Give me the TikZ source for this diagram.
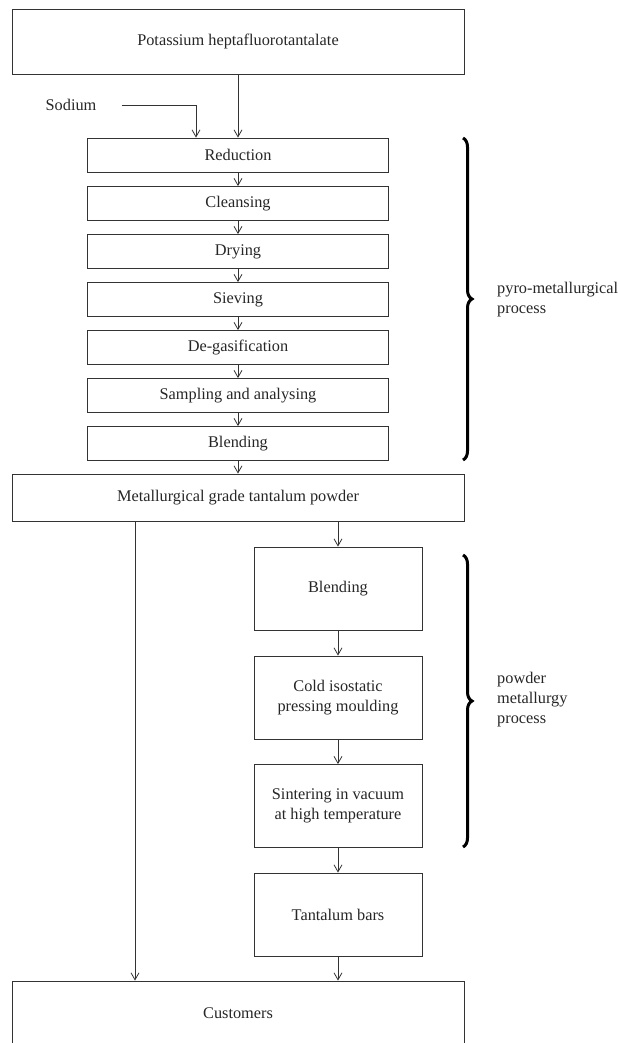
\documentclass[tikz,border=0pt]{standalone}
\usepackage{fontspec}
\setmainfont{Liberation Serif}
\usepackage{tikz}
\usetikzlibrary{arrows.meta, positioning, decorations.pathreplacing}

\begin{document}
\begin{tikzpicture}
  [
    x=1pt, y=-1pt,
    every node/.style={font=\fontsize{16.3}{20}\selectfont, text=black!85},
    Wide/.style={rectangle, draw=black!80, line width=0.8pt, minimum width=452pt, inner sep=0pt},
    Step/.style={rectangle, draw=black!80, line width=0.8pt, minimum width=301pt, minimum height=34pt, inner sep=0pt},
    Tall/.style={rectangle, draw=black!80, line width=0.8pt, minimum width=168pt, minimum height=83pt, inner sep=0pt, align=center},
    Flow/.style={draw=black!80, line width=0.8pt, -{Straight Barb[length=7pt, width=8pt]}},
    Brace/.style={draw=black, line width=3pt, decorate, decoration={brace, amplitude=9pt}}
  ]
  \useasboundingbox (0,0) rectangle (619,1043);
  % Nodes
  \node[Wide, minimum height=65pt] (k2taf7) at (238, 41.5) {Potassium heptafluorotantalate};
  \node[inner sep=0pt] (sodium) at (71, 105) {Sodium};
  \node[Step] (s1) at (238, 155) {Reduction};
  \node[Step] (s2) at (238, 203.5) {Cleansing};
  \node[Step] (s3) at (238, 251.5) {Drying};
  \node[Step] (s4) at (238, 299.5) {Sieving};
  \node[Step] (s5) at (238, 347.5) {De-gasification};
  \node[Step] (s6) at (238, 395.5) {Sampling and analysing};
  \node[Step] (s7) at (238, 443.5) {Blending};
  \node[Wide, minimum height=47pt] (mgp) at (238, 497.5) {Metallurgical grade tantalum powder};
  \node[Tall] (p1) at (338, 588.5) {Blending};
  \node[Tall] (p2) at (338, 697.5) {Cold isostatic\\pressing moulding};
  \node[Tall] (p3) at (338, 806) {Sintering in vacuum\\at high temperature};
  \node[Tall] (p4) at (338, 914.5) {Tantalum bars};
  \node[Wide, minimum height=64pt] (cust) at (238, 1013) {Customers};
  \node[anchor=west, align=left, inner sep=0pt] (pyro) at (497, 300) {pyro-metallurgical\\process};
  \node[anchor=west, align=left, inner sep=0pt] (pm) at (497, 700) {powder\\metallurgy\\process};
  % Braces
  \path [Brace] (463, 138) -- (463, 460);
  \path [Brace] (463, 555) -- (463, 847);
  % Lines
  \path [Flow] (k2taf7) -- (s1);
  \path [Flow] ([xshift=25pt]sodium.east) -| ([xshift=-42pt]s1.north);
  \path [Flow] (s1) -- (s2);
  \path [Flow] (s2) -- (s3);
  \path [Flow] (s3) -- (s4);
  \path [Flow] (s4) -- (s5);
  \path [Flow] (s5) -- (s6);
  \path [Flow] (s6) -- (s7);
  \path [Flow] (s7) -- (mgp);
  \path [Flow] (mgp.south -| p1.north) -- (p1);
  \path [Flow] (p1) -- (p2);
  \path [Flow] (p2) -- (p3);
  \path [Flow] (p3) -- (p4);
  \path [Flow] (p4) -- (p4 |- cust.north);
  \path [Flow] ([xshift=-103pt]mgp.south) -- ([xshift=-103pt]cust.north);
\end{tikzpicture}
\end{document}
